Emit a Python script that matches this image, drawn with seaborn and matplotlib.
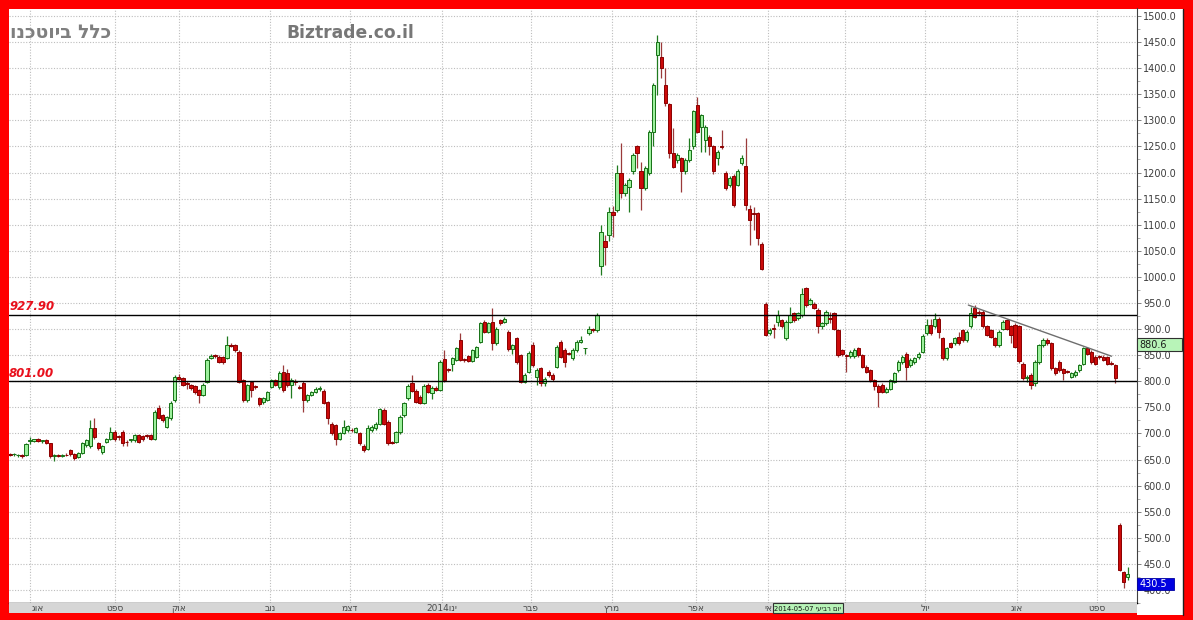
import matplotlib
matplotlib.use("Agg")
import matplotlib.pyplot as plt
import matplotlib.ticker as mticker
from matplotlib.patches import Rectangle
from matplotlib.lines import Line2D
import numpy as np
import pandas as pd
import seaborn as sns

# ---------------- data ----------------
opens = [
    660, 660, 658, 658, 658, 686, 686, 689, 686, 687,
    681, 657, 658, 657, 659, 669, 660, 655, 662, 677,
    676, 711, 681, 664, 684, 690, 703, 694, 703, 684,
    687, 687, 697, 695, 697, 697, 690, 748, 735, 713,
    729, 764, 808, 806, 796, 793, 790, 783, 774, 799,
    845, 850, 847, 847, 844, 869, 869, 857, 802, 764,
    799, 790, 767, 760, 764, 789, 802, 789, 818, 815, 793,
    800, 789, 797, 764, 774, 780, 785, 782, 761,
    719, 716, 690, 701, 706, 707, 703, 700, 676, 671,
    707, 710, 719, 745, 722, 683, 684, 702, 735, 767,
    796, 782, 770, 759, 793, 778, 788, 784, 842, 823,
    833, 841, 879, 842, 848, 839, 847, 876, 914, 895,
    914, 873, 917, 914, 895, 861, 882, 850, 799, 818,
    869, 809, 825, 796, 818, 812, 828, 876, 860, 854,
    844, 860, 876, 863, 892, 899, 898,
    1020, 1069, 1080, 1125, 1128, 1199, 1160, 1173, 1202, 1250,
    1202, 1170, 1199, 1278, 1425, 1422, 1368, 1331, 1237, 1224,
    1227, 1202, 1224, 1250, 1329, 1288, 1262, 1269, 1250, 1227,
    1250, 1199, 1177, 1194, 1177, 1218, 1213, 1131, 1123, 1122, 1064,
    949, 892, 901, 914, 917, 882, 914, 930, 921, 927,
    978, 949, 949, 937, 905, 911,
    921, 930, 899, 859, 849, 848, 848, 863, 850, 828,
    821, 802, 791, 793, 780, 786, 799, 821, 837, 852,
    831, 837, 846, 857, 892, 908, 905, 920, 882, 844,
    873, 873, 885, 898, 879, 905, 940, 933, 933, 905,
    898, 882, 869, 901, 917, 905, 908, 905, 834, 806,
    812, 796, 837, 869, 879, 873, 825, 837, 823, 819,
    809, 812, 821, 834, 863, 857, 847, 847, 847, 846, 835, 831,
    525, 434, 424,
]
highs = [
    662, 662, 661, 660, 681, 694, 690, 691, 688, 689,
    682, 660, 661, 660, 662, 671, 662, 665, 684, 690,
    726, 729, 684, 678, 692, 713, 706, 697, 706, 687,
    690, 699, 699, 697, 699, 699, 744, 755, 737, 734,
    762, 812, 813, 808, 800, 795, 792, 785, 796, 845,
    852, 853, 850, 849, 887, 873, 871, 859, 805, 795,
    801, 793, 770, 769, 782, 805, 805, 820, 832, 823, 806,
    805, 792, 800, 776, 782, 789, 790, 785, 763,
    722, 718, 703, 726, 716, 710, 712, 703, 679, 716,
    716, 721, 748, 748, 725, 686, 704, 735, 760, 794,
    812, 785, 773, 794, 796, 790, 791, 840, 860, 826,
    846, 866, 892, 845, 851, 862, 868, 914, 917, 914,
    940, 904, 920, 923, 898, 872, 885, 853, 815, 858,
    876, 825, 828, 808, 821, 815, 869, 879, 863, 857,
    863, 879, 886, 864, 905, 902, 930,
    1099, 1080, 1134, 1135, 1214, 1256, 1180, 1190, 1237, 1253,
    1221, 1212, 1282, 1371, 1464, 1451, 1400, 1334, 1285, 1237,
    1230, 1227, 1266, 1320, 1345, 1313, 1291, 1272, 1253, 1243,
    1282, 1202, 1193, 1197, 1206, 1234, 1266, 1138, 1134, 1125, 1067,
    952, 902, 910, 936, 920, 917, 943, 933, 933, 978,
    981, 959, 952, 940, 914, 936,
    933, 933, 901, 862, 852, 860, 863, 866, 853, 831,
    824, 805, 794, 796, 789, 805, 818, 840, 850, 857,
    844, 847, 856, 890, 920, 920, 930, 923, 885, 866,
    876, 885, 895, 901, 898, 943, 946, 937, 936, 908,
    901, 885, 898, 917, 920, 908, 911, 908, 837, 812,
    815, 840, 872, 882, 882, 876, 828, 840, 826, 822,
    818, 821, 834, 866, 866, 860, 850, 850, 850, 849, 838, 834,
    528, 436, 444,
]
lows = [
    657, 656, 655, 652, 656, 680, 683, 684, 682, 680,
    652, 648, 655, 654, 656, 657, 649, 653, 660, 674,
    672, 690, 668, 661, 681, 688, 686, 688, 676, 676,
    683, 684, 682, 686, 692, 688, 688, 727, 722, 710,
    726, 760, 802, 790, 785, 784, 776, 758, 772, 797,
    843, 845, 835, 834, 842, 865, 857, 796, 760, 761,
    770, 785, 753, 757, 762, 787, 790, 785, 780, 789, 767,
    793, 785, 742, 760, 771, 777, 782, 756, 719,
    697, 678, 687, 698, 703, 703, 700, 678, 665, 668,
    703, 707, 716, 716, 678, 679, 681, 699, 732, 764,
    780, 758, 756, 756, 777, 766, 781, 781, 799, 818,
    820, 838, 838, 836, 836, 836, 844, 873, 892, 892,
    860, 870, 908, 911, 858, 852, 834, 796, 796, 815,
    828, 793, 790, 790, 809, 801, 825, 844, 828, 850,
    841, 857, 874, 852, 889, 895, 895,
    1004, 1023, 1068, 1077, 1125, 1152, 1155, 1125, 1198, 1208,
    1128, 1166, 1196, 1250, 1349, 1381, 1328, 1227, 1208, 1218,
    1163, 1198, 1220, 1246, 1275, 1240, 1240, 1234, 1198, 1215,
    1246, 1166, 1173, 1134, 1174, 1214, 1128, 1061, 1090, 1061, 1013,
    886, 888, 882, 905, 902, 879, 911, 914, 917, 924,
    943, 946, 938, 892, 901, 908,
    911, 898, 847, 849, 818, 845, 845, 847, 825, 815,
    799, 783, 751, 777, 777, 783, 796, 818, 834, 802,
    828, 834, 843, 854, 889, 889, 902, 882, 841, 841,
    863, 869, 869, 876, 876, 902, 921, 927, 902, 886,
    882, 866, 866, 898, 898, 873, 863, 835, 803, 799,
    786, 790, 834, 866, 870, 822, 812, 818, 802, 815,
    806, 809, 818, 831, 850, 834, 831, 843, 838, 831, 831, 796,
    436, 404, 420,
]
closes = [
    659, 661, 658, 657, 679, 688, 689, 686, 687, 682,
    656, 659, 657, 659, 658, 660, 653, 663, 681, 688,
    710, 694, 672, 675, 690, 703, 690, 693, 681, 683,
    688, 697, 684, 689, 696, 690, 742, 729, 726, 732,
    758, 809, 805, 793, 795, 787, 780, 774, 793, 841,
    848, 849, 837, 836, 869, 868, 860, 799, 764, 793,
    783, 789, 757, 767, 780, 802, 793, 815, 783, 792, 802,
    798, 788, 764, 774, 780, 786, 788, 758, 729,
    700, 690, 700, 713, 714, 706, 710, 681, 668, 710,
    713, 718, 746, 719, 681, 682, 702, 732, 758, 791,
    782, 761, 759, 791, 780, 788, 784, 837, 802, 821,
    844, 863, 841, 840, 839, 860, 866, 911, 895, 911,
    873, 901, 911, 920, 861, 869, 837, 799, 812, 855,
    831, 822, 796, 805, 812, 804, 866, 847, 837, 853,
    860, 876, 879, 863, 901, 898, 927,
    1087, 1058, 1125, 1119, 1199, 1160, 1176, 1186, 1234, 1237,
    1170, 1208, 1278, 1368, 1451, 1400, 1333, 1237, 1211, 1234,
    1202, 1224, 1243, 1317, 1278, 1310, 1288, 1250, 1202, 1240,
    1249, 1170, 1190, 1138, 1202, 1227, 1138, 1109, 1121, 1074, 1016,
    889, 898, 900, 927, 905, 914, 927, 917, 930, 968,
    946, 956, 941, 905, 911, 933,
    920, 901, 850, 852, 848, 857, 860, 850, 828, 818,
    802, 790, 780, 780, 786, 802, 815, 837, 847, 828,
    841, 844, 853, 887, 908, 892, 920, 895, 844, 863,
    866, 882, 873, 879, 895, 930, 924, 930, 905, 889,
    885, 869, 895, 914, 901, 889, 866, 838, 806, 809,
    793, 837, 869, 879, 873, 825, 815, 821, 815, 818,
    815, 818, 831, 863, 853, 837, 834, 846, 841, 834, 834, 806,
    438, 415, 430.5,
]

# month boundaries (candle index) and their labels (logical Hebrew order)
month_pos = [4.98, 26.1, 42.0, 64.7, 84.6, 107.5, 129.6, 149.8, 170.6, 188.6,
             207.7, 227.6, 250.5, 270.4]
month_names = ["אוג", "ספט", "אוק", "נוב", "דצמ", "ינו", "פבר", "מרץ", "אפר", "אי",
               "", "יול", "אוג", "ספט"]
month_years = ["", "", "", "", "", "2014", "", "", "", "", "", "", "", ""]

ref_levels = [927.90, 801.00]
ref_labels = ["927.90", "801.00"]
trend_idx = [238.4, 274.0]
trend_val = [946.0, 848.0]
marker_value = "880.6"
last_price = "430.5"
cursor_date = "2014-05-07"
cursor_day = "יום רביעי"
title_he = "כלל ביוטכנו"
site = "Biztrade.co.il"


def vis(s):
    """Hebrew is right-to-left; matplotlib draws left-to-right."""
    return s[::-1]


# ---------------- style ----------------
sns.set_theme(style="white")
plt.rcParams['font.family'] = ['DejaVu Sans', 'Liberation Sans']
plt.rcParams['axes.unicode_minus'] = False

W, H = 1193, 620
fig = plt.figure(figsize=(W / 100, H / 100), dpi=100, facecolor='#ff0000')


def fx(px):
    return px / W


def fy(py):
    return 1 - py / H


L_, R_, T_, B_ = 8.5, 1137, 8.5, 603
BAND_B = 612.5

# white price panel on the right
fig.patches.append(Rectangle((fx(R_), fy(615)), fx(1183) - fx(R_), fy(T_) - fy(615),
                             transform=fig.transFigure, facecolor='white',
                             edgecolor='none', zorder=-2))
fig.lines.append(Line2D([fx(1182.5), fx(1182.5)], [fy(T_), fy(615)],
                        transform=fig.transFigure, color='#202020', lw=1.0, zorder=-1))

ax = fig.add_axes([fx(L_), fy(B_), fx(R_) - fx(L_), fy(T_) - fy(B_)])
ax.set_facecolor('white')

df = pd.DataFrame({"open": opens, "high": highs, "low": lows, "close": closes})
df["idx"] = np.arange(len(df))
up = df["close"] >= df["open"]

# axis limits (pixel geometry of the reference)
ax.set_xlim(-0.373, 280.35)
ax.set_ylim(375.0, 1514.4)

# grid
ax.set_xticks(month_pos)
ax.tick_params(axis='x', length=0, labelbottom=False)
ax.set_yticks(np.arange(400, 1501, 50))
ax.yaxis.set_minor_locator(mticker.MultipleLocator(25))
ax.grid(True, which='major', color='#bdbdbd', linestyle=(0, (1, 1.5)), linewidth=0.8)
ax.set_axisbelow(True)

# candles
wick_col = np.where(up, '#1f7a1f', '#9a3a3a')
face_col = np.where(up, '#9cf09c', '#cc0a0a')
edge_col = np.where(up, '#157015', '#8a0000')
ax.vlines(df["idx"], df["low"], df["high"], colors=wick_col, linewidth=0.9, zorder=2)
bottoms = np.minimum(df["open"], df["close"])
heights = np.maximum(np.abs(df["close"] - df["open"]), 1.5)
ax.bar(df["idx"], heights, bottom=bottoms, width=0.82, color=face_col,
       edgecolor=edge_col, linewidth=0.7, zorder=3)

# reference levels
for lvl, lab in zip(ref_levels, ref_labels):
    ax.axhline(lvl, color='black', lw=1.0, zorder=4)
    ax.annotate(lab, xy=(0, lvl), xycoords=('axes fraction', 'data'),
                xytext=(0.5, 3), textcoords='offset points', va='baseline', ha='left',
                color='#e8101c', fontsize=8.5, fontweight='bold', fontstyle='italic',
                zorder=5)

# trend line
trend_df = pd.DataFrame({"x": trend_idx, "y": trend_val})
sns.lineplot(data=trend_df, x="x", y="y", ax=ax, color='#6e6e6e', lw=1.0, zorder=4)
ax.set_xlabel("")
ax.set_ylabel("")

# right price axis
ax.yaxis.tick_right()
ax.yaxis.set_major_formatter(mticker.FormatStrFormatter('%.1f'))
ax.tick_params(axis='y', which='major', direction='out', length=3, width=0.7,
               color='#808080', labelsize=7, labelcolor='#3c3c3c', pad=1.5)
ax.tick_params(axis='y', which='minor', direction='out', length=2, width=0.6,
               color='#a0a0a0')
for s in ['left', 'top']:
    ax.spines[s].set_visible(False)
ax.spines['right'].set_color('#404040')
ax.spines['right'].set_linewidth(0.8)
ax.spines['bottom'].set_color('black')
ax.spines['bottom'].set_linewidth(1.0)

# headline texts
ax.text((111 - L_) / (R_ - L_), 1 - (33 - T_) / (B_ - T_), vis(title_he),
        transform=ax.transAxes, ha='right', va='center', fontsize=13.5,
        fontweight='bold', color='#7f7f7f', clip_on=True, zorder=6)
ax.text((350 - L_) / (R_ - L_), 1 - (33 - T_) / (B_ - T_), site,
        transform=ax.transAxes, ha='center', va='center', fontsize=12.3,
        fontweight='bold', color='#777777', zorder=6)

# date band
bax = fig.add_axes([fx(L_), fy(BAND_B), fx(R_) - fx(L_), fy(B_) - fy(BAND_B)])
bax.set_facecolor('#d6d6d6')
bax.set_xlim(ax.get_xlim())
bax.set_ylim(0, 1)
bax.set_xticks([])
bax.set_yticks([])
for s in bax.spines.values():
    s.set_visible(False)
for i, (p, nm, yr) in enumerate(zip(month_pos, month_names, month_years)):
    if not nm:
        continue
    lab = (yr + vis(nm)) if yr else vis(nm)
    if i == 0:
        bax.text(p + 0.3, 0.45, lab, ha='left', va='center', fontsize=6.5, color='#4a4a4a')
    elif nm == "אי":
        bax.text(p + 1.0, 0.45, lab, ha='right', va='center', fontsize=6.5, color='#4a4a4a')
    else:
        bax.text(p, 0.45, lab, ha='center', va='center', fontsize=6.5, color='#4a4a4a')

bx0 = (773 - 10) / 4.02
bx1 = (843 - 10) / 4.02
bax.add_patch(Rectangle((bx0, 0.0), bx1 - bx0, 1.0, facecolor='#b8f4b8',
                        edgecolor='#303030', lw=0.8, clip_on=False, zorder=3))
dtxt = bax.text(bx0 + 0.35, 0.45, cursor_date + " " + vis(cursor_day), ha='left',
                va='center', fontsize=6.5, color='#111111', zorder=4)
# shrink the cursor text until it fits inside its 70 px box
renderer = fig.canvas.get_renderer()
fs = 6.5
while dtxt.get_window_extent(renderer).width > 67 and fs > 3.5:
    fs -= 0.1
    dtxt.set_fontsize(fs)

# value boxes on the price axis
fig.patches.append(Rectangle((fx(1137), fy(351)), fx(1182) - fx(1137), fy(338) - fy(351),
                             transform=fig.transFigure, facecolor='#b8f4b8',
                             edgecolor='#303030', lw=0.8, zorder=5))
fig.text(fx(1139), fy(344.5), marker_value, ha='left', va='center', fontsize=7,
         color='#1a1a1a', zorder=6)
fig.patches.append(Rectangle((fx(1137), fy(590)), fx(1174) - fx(1137), fy(578) - fy(590),
                             transform=fig.transFigure, facecolor='#0000e0',
                             edgecolor='#0000a0', lw=0.6, zorder=5))
fig.text(fx(1140), fy(584), last_price, ha='left', va='center', fontsize=7,
         color='white', zorder=6)

fig.savefig("out.png", dpi=100, facecolor=fig.get_facecolor())
